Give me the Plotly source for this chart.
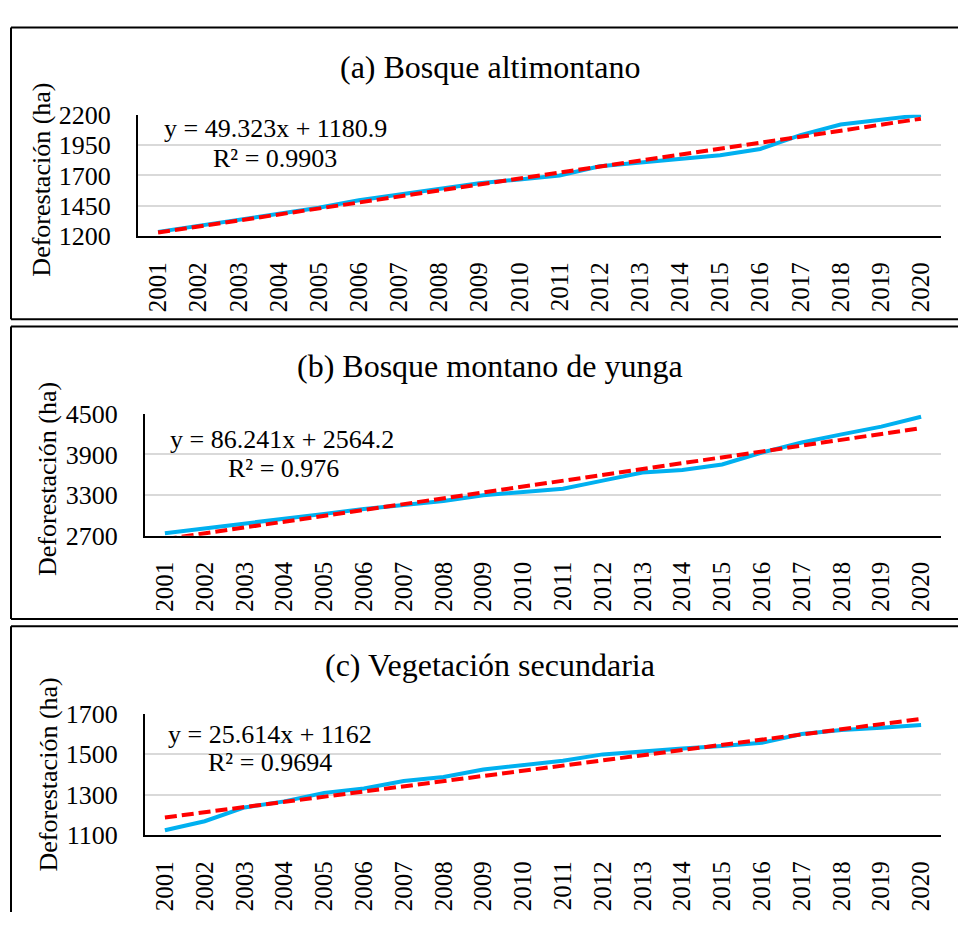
import plotly.graph_objects as go

W, H = 958, 927

years = [str(y) for y in range(2001, 2021)]

altimontano = [1235, 1285, 1332, 1380, 1434, 1495, 1540, 1583, 1636, 1667,
               1700, 1775, 1806, 1841, 1867, 1918, 2032, 2120, 2157, 2197]
yunga = [2739, 2810, 2871, 2939, 3024, 3096, 3157, 3214, 3300, 3348,
         3396, 3514, 3634, 3671, 3753, 3929, 4077, 4196, 4310, 4457]
secundaria = [1124, 1169, 1237, 1267, 1309, 1331, 1368, 1387, 1424, 1448,
              1468, 1499, 1515, 1528, 1540, 1556, 1600, 1619, 1631, 1644]

slopes = [49.323, 86.241, 25.614]
intercepts = [1180.9, 2564.2, 1162]
eq_texts = ["y = 49.323x + 1180.9", "y = 86.241x + 2564.2", "y = 25.614x + 1162"]
r2_texts = ["R² = 0.9903", "R² = 0.976", "R² = 0.9694"]
titles = ["(a) Bosque altimontano", "(b) Bosque montano de yunga", "(c) Vegetación secundaria"]
yticks = [[1200, 1450, 1700, 1950, 2200],
          [2700, 3300, 3900, 4500],
          [1100, 1300, 1500, 1700]]
series = [altimontano, yunga, secundaria]

# layout in pixels
plot_x = [(138, 941), (145, 941), (145, 941)]
plot_y = [(104, 229.3), (412.7, 538.7), (722.3, 847.7)]
title_y = [55, 363, 672]
ytitle_pos = [(42, 171), (48, 480), (48, 785)]
eq_pos = [((275, 118), (275, 149)), ((282, 439), (283, 469)), ((270, 744), (270, 773))]
box_y = [(14, 315), (322.5, 624.5), (632, None)]

FONT = "Liberation Serif, Times New Roman, serif"

def px(x):
    return x / W

def py(y):
    return 1 - y / H

fig = go.Figure()
annotations = []
shapes = []

def hline(x0, x1, y):
    shapes.append(dict(type="line", xref="paper", yref="paper",
                       x0=px(x0), x1=px(x1), y0=py(y), y1=py(y),
                       line=dict(color="black", width=2)))

def vline(x, y0, y1):
    shapes.append(dict(type="line", xref="paper", yref="paper",
                       x0=px(x), x1=px(x), y0=py(y0), y1=py(y1),
                       line=dict(color="black", width=2)))

for i in range(3):
    n = "" if i == 0 else str(i + 1)
    xa = "x" + n
    ya = "y" + n
    xs = list(range(1, 21))
    trend = [slopes[i] * x + intercepts[i] for x in xs]
    fig.add_trace(go.Scatter(x=years, y=series[i], mode="lines",
                             line=dict(color="#00B0F0", width=4),
                             xaxis=xa, yaxis=ya, showlegend=False))
    fig.add_trace(go.Scatter(x=years, y=trend, mode="lines",
                             line=dict(color="#FF0000", width=4, dash="12px,5px"),
                             xaxis=xa, yaxis=ya, showlegend=False))
    yt = yticks[i]
    fig.update_layout(**{
        "xaxis" + n: dict(domain=[px(plot_x[i][0]), px(plot_x[i][1])],
                          anchor=ya, type="category", tickangle=-90,
                          range=[-0.5, 19.5],
                          showline=True, linecolor="black", linewidth=2,
                          showgrid=False, ticks="outside", ticklen=14,
                          tickcolor="rgba(0,0,0,0)",
                          tickfont=dict(family=FONT, size=25, color="black"),
                          fixedrange=True),
        "yaxis" + n: dict(domain=[py(plot_y[i][1]), py(plot_y[i][0])],
                          anchor=xa, range=[yt[0], yt[-1]],
                          tickvals=yt, showline=True, linecolor="black",
                          linewidth=2, showgrid=True, gridcolor="#d9d9d9",
                          gridwidth=2, zeroline=False, ticks="outside",
                          ticklen=20, tickcolor="rgba(0,0,0,0)",
                          tickfont=dict(family=FONT, size=26, color="black"),
                          fixedrange=True),
    })
    annotations.append(dict(text=titles[i], x=px(490), y=py(title_y[i]),
                            xref="paper", yref="paper", showarrow=False,
                            xanchor="center", yanchor="middle",
                            font=dict(family=FONT, size=32, color="black")))
    annotations.append(dict(text="Deforestación (ha)", x=px(ytitle_pos[i][0]),
                            y=py(ytitle_pos[i][1]), xref="paper", yref="paper",
                            showarrow=False, textangle=-90,
                            xanchor="center", yanchor="middle",
                            font=dict(family=FONT, size=26, color="black")))
    annotations.append(dict(text=eq_texts[i], x=px(eq_pos[i][0][0]),
                            y=py(eq_pos[i][0][1]), xref="paper", yref="paper",
                            showarrow=False, xanchor="center", yanchor="middle",
                            font=dict(family=FONT, size=26, color="black")))
    annotations.append(dict(text=r2_texts[i], x=px(eq_pos[i][1][0]),
                            y=py(eq_pos[i][1][1]), xref="paper", yref="paper",
                            showarrow=False, xanchor="center", yanchor="middle",
                            font=dict(family=FONT, size=26, color="black")))
    top, bottom = box_y[i]
    hline(11, 958, top)
    if bottom is not None:
        hline(11, 958, bottom)
        vline(11, top, bottom)
    else:
        vline(11, top, 927)

fig.update_layout(width=W, height=H, margin=dict(l=0, r=0, t=0, b=0),
                  paper_bgcolor="white", plot_bgcolor="white",
                  annotations=annotations, shapes=shapes, showlegend=False)

post = """
document.documentElement.style.margin='0';
document.documentElement.style.padding='0';
document.documentElement.style.overflow='hidden';
document.body.style.margin='0';
document.body.style.padding='0';
document.body.style.overflow='hidden';
var gd = document.getElementById('{plot_id}');
gd.style.position='fixed';
gd.style.top='0px';
gd.style.left='0px';
"""

fig.write_html("out.html", config={"displayModeBar": False}, post_script=post)
